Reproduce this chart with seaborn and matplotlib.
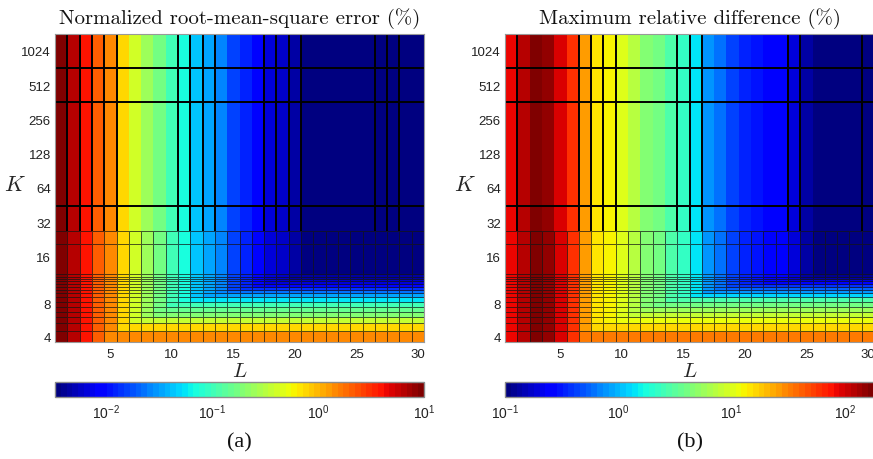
import numpy as np
import matplotlib
matplotlib.use("Agg")
import matplotlib.pyplot as plt
from matplotlib.colors import LogNorm, ListedColormap
from matplotlib.ticker import FixedLocator, FixedFormatter, LogLocator, NullFormatter
import seaborn as sns

sns.set_theme(style="white")
plt.rcParams["font.family"] = ["Liberation Sans", "DejaVu Sans"]
plt.rcParams["mathtext.fontset"] = "cm"

# ---------------- data ----------------
L_values = list(range(1, 31))
L_ticks = [5, 10, 15, 20, 25, 30]

K_ticks = [4, 8, 16, 32, 64, 128, 256, 512, 1024]
K_tick_labels = ["4", "8", "16", "32", "64", "128", "256", "512", "1024"]

# row edges (in K) of the fine lower block and the coarse upper block
K_edges_lower = [3.53, 4.47, 5.29, 5.92, 6.58, 7.31, 8.08, 8.70, 9.27, 9.74,
                 10.17, 10.59, 11.02, 11.40, 11.79, 12.27, 20.6, 26.6]
K_edges_upper = [26.6, 44.3, 362.0, 724.0, 1445.0]

# (a) normalized RMSE (%) per L (large K) and per-K floor (small K)
nrmse_by_L = [9.8, 6.7, 4.1, 2.2, 1.35, 0.74, 0.41, 0.245, 0.164, 0.11,
              0.067, 0.045, 0.033, 0.0245, 0.0164, 0.0122, 0.009, 0.0067, 0.0055, 0.0045,
              0.0037, 0.0037, 0.0037, 0.0037, 0.0037, 0.0036, 0.0036, 0.0036, 0.0036, 0.0035]
nrmse_floor_by_K = [1.4, 0.74, 0.37, 0.20, 0.15, 0.10, 0.055, 0.032, 0.022, 0.0135,
                    0.009, 0.0068, 0.0055, 0.0048, 0.0044, 0.0, 0.0]

# (b) maximum relative difference (%)
maxrel_by_L = [85, 124, 164, 144, 99, 59, 25, 14.4, 13.1, 9.9,
               6.8, 4.7, 3.9, 2.9, 2.2, 1.38, 0.79, 0.65, 0.45, 0.34,
               0.29, 0.255, 0.235, 0.19, 0.14, 0.11, 0.108, 0.106, 0.105, 0.104]
maxrel_floor_by_K = [33, 17, 11, 8.1, 5.6, 3.9, 2.7, 1.3, 0.8, 0.54,
                     0.37, 0.25, 0.18, 0.14, 0.12, 0.0, 0.0]

# column boundaries (between L=b and L=b+1) that show a line in the coarse block
upper_lines_a = [1, 2, 3, 4, 5, 10, 11, 12, 13, 17, 18, 19, 20, 26, 27, 28]
upper_lines_b = [1, 6, 7, 8, 9, 14, 15, 16, 23, 24, 29]

titles = ["Normalized root-mean-square error (%)", "Maximum relative difference (%)"]
panel_tags = ["(a)", "(b)"]
cbar_ranges = [(0.0033, 10.0), (0.1, 181.0)]
cbar_ticks = [[0.01, 0.1, 1, 10], [0.1, 1, 10, 100]]

# ---------------- styling ----------------
jet64 = ListedColormap(plt.get_cmap("jet")(np.linspace(0, 1, 64)))

anc_log = np.array([0.0, 2.0, 3.0, 4.0, 5.0, 10.0, 12.0])
anc_pos = np.array([-66.0, 0.0, 33.0, 80.0, 114.0, 285.0, 353.4])


def k_fwd(k):
    k = np.clip(np.asarray(k, dtype=float), 1e-6, None)
    return np.interp(np.log2(k), anc_log, anc_pos)


def k_inv(p):
    return 2.0 ** np.interp(np.asarray(p, dtype=float), anc_pos, anc_log)


fig = plt.figure(figsize=(8.73, 4.60), dpi=100)
fig.patch.set_facecolor("white")

ax_rects = [[55 / 873, 117 / 460, 369 / 873, 308 / 460],
            [505 / 873, 117 / 460, 369 / 873, 308 / 460]]
cb_rects = [[55 / 873, 62 / 460, 369 / 873, 15 / 460],
            [505 / 873, 62 / 460, 369 / 873, 15 / 460]]

x_edges = np.arange(0.5, 31.5, 1.0)

panels = [(nrmse_by_L, nrmse_floor_by_K, upper_lines_a),
          (maxrel_by_L, maxrel_floor_by_K, upper_lines_b)]

for i, (col_vals, floor_vals, up_lines) in enumerate(panels):
    ax = fig.add_axes(ax_rects[i])
    ax.set_yscale("function", functions=(k_fwd, k_inv))
    norm = LogNorm(vmin=cbar_ranges[i][0], vmax=cbar_ranges[i][1])

    col = np.asarray(col_vals, dtype=float)
    flo = np.asarray(floor_vals, dtype=float)
    Z_lower = np.maximum(col[None, :], flo[:, None])
    Z_upper = np.tile(col, (len(K_edges_upper) - 1, 1))

    ax.pcolormesh(x_edges, K_edges_upper, Z_upper, cmap=jet64, norm=norm,
                  edgecolors="none", shading="flat")
    mesh = ax.pcolormesh(x_edges, K_edges_lower, Z_lower, cmap=jet64, norm=norm,
                         edgecolors=(0.08, 0.08, 0.08, 0.7), linewidth=0.65,
                         shading="flat")
    ax.vlines(np.asarray(up_lines) + 0.5, K_edges_upper[0], K_edges_upper[-1],
              colors="black", linewidth=1.4)
    ax.hlines(K_edges_upper[1:-1], x_edges[0], x_edges[-1],
              colors="black", linewidth=1.4)

    ax.set_xlim(x_edges[0], x_edges[-1])
    ax.set_ylim(K_edges_lower[0], K_edges_upper[-1])
    ax.yaxis.set_major_locator(FixedLocator(K_ticks))
    ax.yaxis.set_major_formatter(FixedFormatter(K_tick_labels))
    ax.yaxis.set_minor_locator(FixedLocator([]))
    ax.set_xticks(L_ticks)
    ax.set_xticklabels([str(v) for v in L_ticks])
    ax.tick_params(axis="y", length=0, pad=3, labelsize=9.5, colors="#222222")
    ax.tick_params(axis="x", length=0, pad=4, labelsize=9.5, colors="#222222")
    for s in ax.spines.values():
        s.set_color("0.6")
        s.set_linewidth(0.8)

    ax.set_ylabel("$K$", rotation=0, fontsize=16, ha="center", va="center")
    ax.yaxis.set_label_coords(-40 / 369, 157 / 308)
    ax.set_xlabel("$L$", fontsize=15, va="top")
    ax.xaxis.set_label_coords(0.5, -19 / 308)
    ax.set_title(titles[i], family="cmr10", fontsize=15, pad=8, color="#111111")

    cax = fig.add_axes(cb_rects[i])
    cb = fig.colorbar(mesh, cax=cax, orientation="horizontal")
    cb.set_ticks(cbar_ticks[i])
    cb.ax.xaxis.set_minor_locator(LogLocator(base=10, subs=np.arange(2, 10)))
    cb.ax.xaxis.set_minor_formatter(NullFormatter())
    cb.ax.tick_params(which="both", direction="in", top=True, bottom=True,
                      color="black", labelsize=10, pad=4, labelcolor="#222222")
    cb.ax.tick_params(which="major", length=3, width=0.7)
    cb.ax.tick_params(which="minor", length=2, width=0.6)
    cb.outline.set_edgecolor("0.55")
    cb.outline.set_linewidth(1.0)

    cx = (ax_rects[i][0] + ax_rects[i][2] / 2)
    fig.text(cx, 1 - 443 / 460, panel_tags[i], family="Liberation Serif",
             fontsize=16, ha="center", va="center", color="#111111")

fig.savefig("out.png", dpi=100, facecolor="white")
